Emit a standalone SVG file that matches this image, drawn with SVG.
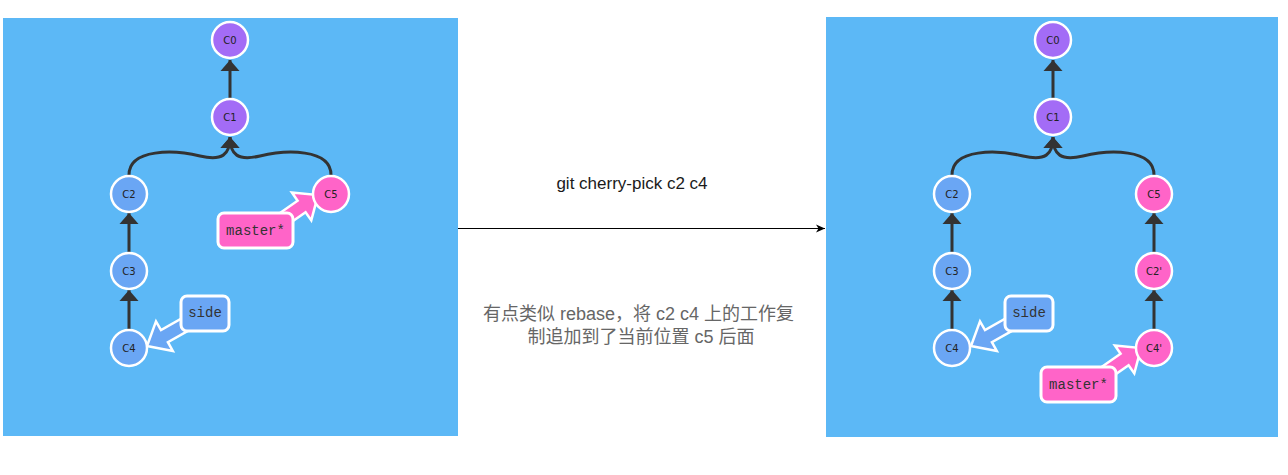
<svg xmlns="http://www.w3.org/2000/svg" width="1288" height="475" viewBox="0 0 1288 475">
<style>
.panel{fill:#5cb8f6}
.cp{fill:#a36cf6;stroke:#fff;stroke-width:2.5}
.cb{fill:#6aa6f4;stroke:#fff;stroke-width:2.5}
.ck{fill:#ff64c8;stroke:#fff;stroke-width:2.5}
.ct{font-family:"DejaVu Sans",sans-serif;font-size:10px;fill:#222;text-anchor:middle;dominant-baseline:central}
.edge{fill:none;stroke:#333;stroke-width:3}
.lbl{stroke:#fff;stroke-width:3}
.lt{font-family:"Liberation Mono",monospace;font-size:14px;fill:#333;text-anchor:middle;dominant-baseline:central}
.barrow{stroke:#fff;stroke-width:2.5;stroke-linejoin:miter}
</style>
<defs>
<marker id="ah" markerUnits="userSpaceOnUse" markerWidth="11" markerHeight="20" viewBox="0 0 11 20" refX="11" refY="10" orient="auto"><path d="M0,0.5 L11,10 L0,19.5 z" fill="#333"/></marker>
<marker id="blk" markerUnits="userSpaceOnUse" markerWidth="10" markerHeight="10" viewBox="0 0 10 10" refX="9" refY="5" orient="auto"><path d="M0,1 L9,5 L0,9 L2.5,5 z" fill="#000"/></marker>
</defs>
<rect class="panel" x="3" y="18" width="455" height="418"/>
<rect class="panel" x="826" y="17" width="452" height="420"/>

<g id="connectors">
<path class="edge" d="M230,98 L230,60" marker-end="url(#ah)"/>
<path class="edge" d="M129,175 C129,148 175,150 200,156 C222,161 230,155 230,137" marker-end="url(#ah)"/>
<path class="edge" d="M331,175 C331,148 285,150 260,156 C238,161 230,155 230,137" marker-end="url(#ah)"/>
<path class="edge" d="M129,252 L129,213" marker-end="url(#ah)"/>
<path class="edge" d="M129,329 L129,290" marker-end="url(#ah)"/>

<path class="edge" d="M1053,98 L1053,60" marker-end="url(#ah)"/>
<path class="edge" d="M952,175 C952,148 998,150 1023,156 C1045,161 1053,155 1053,137" marker-end="url(#ah)"/>
<path class="edge" d="M1154,175 C1154,148 1108,150 1083,156 C1061,161 1053,155 1053,137" marker-end="url(#ah)"/>
<path class="edge" d="M952,252 L952,213" marker-end="url(#ah)"/>
<path class="edge" d="M952,329 L952,290" marker-end="url(#ah)"/>
<path class="edge" d="M1154,252 L1154,213" marker-end="url(#ah)"/>
<path class="edge" d="M1154,329 L1154,290" marker-end="url(#ah)"/>

<path d="M458,228.5 L825,228.5" stroke="#000" stroke-width="1" fill="none" marker-end="url(#blk)"/>

<polygon class="barrow" fill="#ff64c8" points="271.0,219.3 297.6,200.7 291.9,192.5 318,195 311.3,220.4 305.6,212.2 279.0,230.7"/>
<polygon class="barrow" fill="#6aa6f4" points="203.5,322.1 167.9,342.2 172.8,350.9 147,346 156.0,321.4 161.0,330.1 196.6,309.9"/>
<polygon class="barrow" fill="#6aa6f4" points="1027.5,322.1 991.9,342.2 996.8,350.9 971,346 980.0,321.4 985.0,330.1 1020.6,309.9"/>
<polygon class="barrow" fill="#ff64c8" points="1094.0,372.3 1120.6,353.7 1114.9,345.5 1141,348 1134.3,373.4 1128.6,365.2 1102.0,383.7"/>
</g>

<g id="c0L"><circle class="cp" cx="230" cy="40" r="18"/><text class="ct" x="230" y="40">C0</text></g>
<g id="c1L"><circle class="cp" cx="230" cy="117" r="18"/><text class="ct" x="230" y="117">C1</text></g>
<g id="c2L"><circle class="cb" cx="129" cy="194" r="18"/><text class="ct" x="129" y="194">C2</text></g>
<g id="c3L"><circle class="cb" cx="129" cy="271" r="18"/><text class="ct" x="129" y="271">C3</text></g>
<g id="c4L"><circle class="cb" cx="129" cy="348" r="18"/><text class="ct" x="129" y="348">C4</text></g>
<g id="c5L"><circle class="ck" cx="331" cy="194" r="18"/><text class="ct" x="331" y="194">C5</text></g>
<g id="masterL"><rect class="lbl" fill="#ff64c8" x="218" y="213" width="75" height="35" rx="6"/><text class="lt" x="255.5" y="230.5">master*</text></g>
<g id="sideL"><rect class="lbl" fill="#6aa6f4" x="181" y="296" width="48" height="35" rx="6"/><text class="lt" x="205" y="313">side</text></g>

<g id="c0R"><circle class="cp" cx="1053" cy="40" r="18"/><text class="ct" x="1053" y="40">C0</text></g>
<g id="c1R"><circle class="cp" cx="1053" cy="117" r="18"/><text class="ct" x="1053" y="117">C1</text></g>
<g id="c2R"><circle class="cb" cx="952" cy="194" r="18"/><text class="ct" x="952" y="194">C2</text></g>
<g id="c3R"><circle class="cb" cx="952" cy="271" r="18"/><text class="ct" x="952" y="271">C3</text></g>
<g id="c4R"><circle class="cb" cx="952" cy="348" r="18"/><text class="ct" x="952" y="348">C4</text></g>
<g id="c5R"><circle class="ck" cx="1154" cy="194" r="18"/><text class="ct" x="1154" y="194">C5</text></g>
<g id="c2pR"><circle class="ck" cx="1154" cy="271" r="18"/><text class="ct" x="1154" y="271">C2'</text></g>
<g id="c4pR"><circle class="ck" cx="1154" cy="348" r="18"/><text class="ct" x="1154" y="348">C4'</text></g>
<g id="sideR"><rect class="lbl" fill="#6aa6f4" x="1005" y="296" width="48" height="35" rx="6"/><text class="lt" x="1029" y="313">side</text></g>
<g id="masterR"><rect class="lbl" fill="#ff64c8" x="1041" y="367" width="75" height="35" rx="6"/><text class="lt" x="1078.5" y="384.5">master*</text></g>

<g id="labels">
<text x="632" y="189" font-family="Liberation Sans, Arial, sans-serif" font-size="17" fill="#1a1a1a" text-anchor="middle">git cherry-pick c2 c4</text>
<text font-family="Liberation Sans, 'Noto Sans CJK SC', sans-serif" font-size="18" fill="#666" text-anchor="middle">
<tspan x="641" y="320">有点类似 rebase，将 c2 c4 上的工作复</tspan>
<tspan x="641" y="343">制追加到了当前位置 c5 后面</tspan>
</text>
</g>
</svg>
